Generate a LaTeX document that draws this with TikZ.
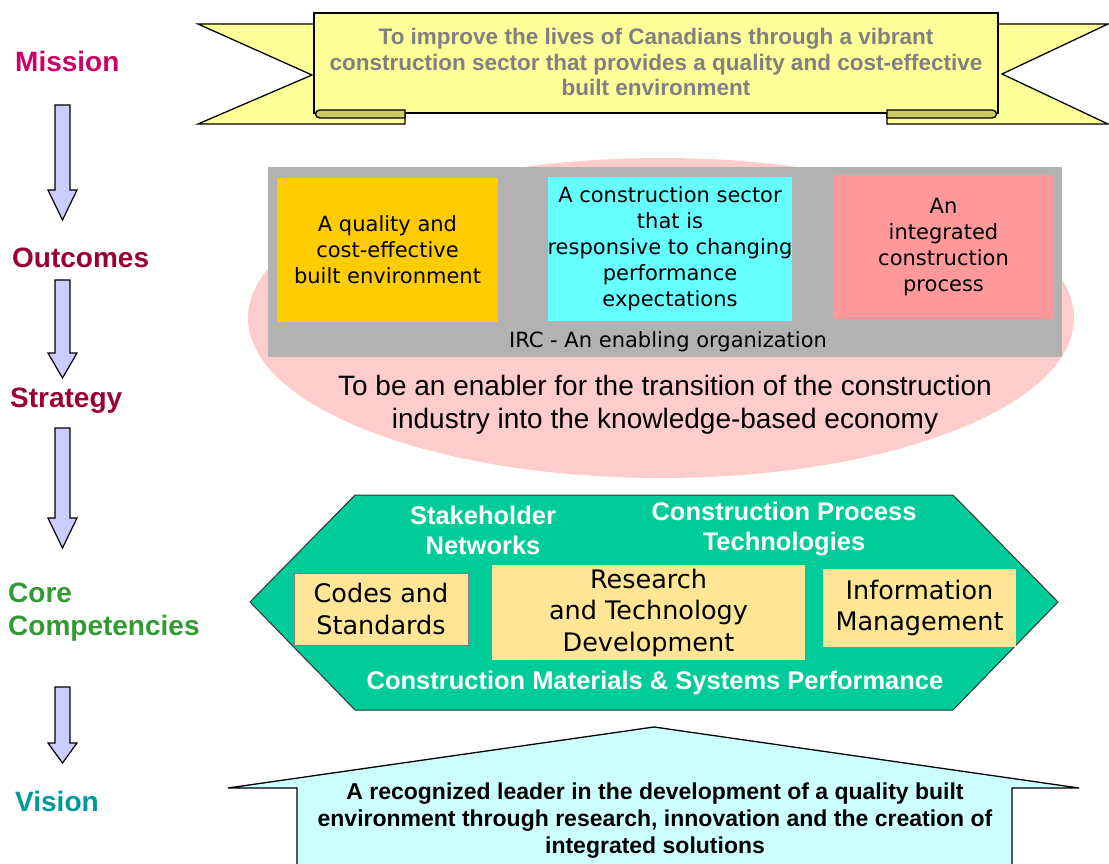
\documentclass[tikz,border=0pt]{standalone}
\usepackage{fontspec}
\setmainfont{Liberation Sans}
\newfontfamily\tahoma{DejaVu Sans}

\definecolor{missionred}{HTML}{CC0066}
\definecolor{stagered}{HTML}{990033}
\definecolor{coregreen}{HTML}{339933}
\definecolor{visionteal}{HTML}{009999}
\definecolor{arrowblue}{HTML}{CCCCFF}
\definecolor{scrollyellow}{HTML}{FFFF99}
\definecolor{scrollolive}{HTML}{CCCC66}
\definecolor{missiongray}{HTML}{808080}
\definecolor{ovalpink}{HTML}{FFCCCC}
\definecolor{ircgray}{HTML}{B2B2B2}
\definecolor{gold}{HTML}{FFCC00}
\definecolor{aqua}{HTML}{66FFFF}
\definecolor{salmon}{HTML}{FF9999}
\definecolor{hexgreen}{HTML}{00CC99}
\definecolor{paleorange}{HTML}{FFE596}
\definecolor{sky}{HTML}{CCFFFF}

% block arrow down the left column: top, start of head, tip
\newcommand{\flowarrow}[3]{%
  \draw[flow] (55,#1) -- (70,#1) -- (70,#2) -- (77,#2) -- (62.5,#3) -- (48,#2) -- (55,#2) -- cycle;}

\begin{document}
\begin{tikzpicture}[x=1pt, y=-1pt,
  stage/.style = {anchor=west, align=left, inner sep=0, font=\fontsize{28}{33}\selectfont\bfseries},
  flow/.style = {draw, fill=arrowblue, line width=1.2pt},
  scroll/.style = {draw, fill=scrollyellow, line width=1.3pt},
  curl/.style = {draw, fill=scrollolive, line width=1.3pt},
  outbox/.style = {inner sep=0, minimum height=144, align=center, font=\tahoma\fontsize{21}{26}\selectfont},
  compbox/.style = {inner sep=0, fill=paleorange, align=center, font=\tahoma\fontsize{25.5}{31.5}\selectfont},
  strand/.style = {inner sep=0, align=center, text=white, font=\fontsize{25.5}{30}\selectfont\bfseries},
  statement/.style = {inner sep=0, align=center, font=\fontsize{22.5}{25.5}\selectfont\bfseries}]
  \useasboundingbox (0,0) rectangle (1109,864);

  % stages on the left
  \node[stage, text=missionred] (mission) at (15,61) {Mission};
  \node[stage, text=stagered] (outcomes) at (12,258) {Outcomes};
  \node[stage, text=stagered] (strategy) at (10,401) {Strategy};
  \node[stage, text=coregreen] (core) at (8,612) {Core\\Competencies};
  \node[stage, text=visionteal] (vision) at (15,801) {Vision};
  \flowarrow{105}{190}{220}
  \flowarrow{280}{353}{378}
  \flowarrow{428}{518}{548}
  \flowarrow{687}{743}{763}

  % mission scroll
  \filldraw[scroll] (198,24) -- (405,24) -- (405,124) -- (198,124) -- (312,75) -- cycle;
  \filldraw[scroll] (1108,24) -- (887,24) -- (887,124) -- (1108,124) -- (1002,74) -- cycle;
  \filldraw[scroll] (314,13) rectangle (998,113);
  \filldraw[curl] (405,110) -- (320,110) .. controls (314,110) and (314,118) .. (320,118) -- (405,118) -- cycle;
  \filldraw[curl] (887,110) -- (992,110) .. controls (998,110) and (998,118) .. (992,118) -- (887,118) -- cycle;
  \node[statement, text=missiongray] (missiontxt) at (656,62)
    {To improve the lives of Canadians through a vibrant\\
     construction sector that provides a quality and cost-effective\\
     built environment};

  % outcomes and strategy
  \fill[ovalpink] (661,318) ellipse [x radius=413, y radius=160];
  \fill[ircgray] (268,167) rectangle (1062,357);
  \node[outbox, fill=gold, minimum width=221] (quality) at (387.5,250)
    {A quality and\\cost-effective\\built environment};
  \node[outbox, fill=aqua, minimum width=240] (sector) at (670,249)
    {A construction sector\\that is\\responsive to changing\\performance\\expectations};
  \node[outbox, fill=salmon, minimum width=221] (process) at (943.5,247)
    {An\\integrated\\construction\\process};
  \node[outbox, minimum height=0] (irc) at (668,342) {IRC - An enabling organization};
  \node[inner sep=0, align=center, font=\fontsize{28}{33}\selectfont] (enabler) at (665,405)
    {To be an enabler for the transition of the construction\\
     industry into the knowledge-based economy};

  % core competencies
  \filldraw[fill=hexgreen, draw=black!80, line width=1pt]
    (250,602) -- (355,495) -- (953,495) -- (1058,602) -- (953,710) -- (355,710) -- cycle;
  \node[strand] (networks) at (483,530) {Stakeholder\\Networks};
  \node[strand] (cptech) at (784,529) {Construction Process\\Technologies};
  \node[compbox, draw=black!50, minimum width=174, minimum height=72] (codes) at (381,609)
    {Codes and\\Standards};
  \node[compbox, minimum width=313, minimum height=95] (rtd) at (648.5,612.5)
    {Research\\and Technology\\Development};
  \node[compbox, minimum width=193, minimum height=78] (infomgmt) at (919.5,608)
    {Information\\Management};
  \node[strand] (materials) at (655,683) {Construction Materials \& Systems Performance};

  % vision roof
  \filldraw[fill=sky, line width=1.3pt]
    (297,870) -- (297,788) -- (228,788) -- (654,727) -- (1079,788) -- (1012,788) -- (1012,870);
  \node[statement, font=\fontsize{23}{27}\selectfont\bfseries] (visiontxt) at (655,821)
    {A recognized leader in the development of a quality built\\
     environment through research, innovation and the creation of\\
     integrated solutions};
\end{tikzpicture}
\end{document}
